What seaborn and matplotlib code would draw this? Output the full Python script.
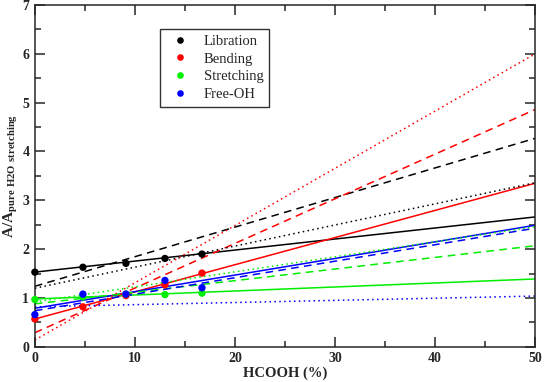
import matplotlib
matplotlib.use("Agg")
import matplotlib.pyplot as plt
import seaborn as sns
import pandas as pd
from matplotlib.ticker import MultipleLocator

# Measured points (HCOOH %)
conc = [0, 4.8, 9.1, 13.0, 16.7]
libration = [1.53, 1.63, 1.71, 1.81, 1.90]
bending = [0.57, 0.82, 1.05, 1.27, 1.51]
stretching = [0.97, 1.02, 1.08, 1.07, 1.10]
free_oh = [0.66, 1.08, 1.08, 1.36, 1.21]

series_names = ["Libration", "Bending", "Stretching", "Free-OH"]
colors = ["black", "red", "#00ee00", "blue"]

# Fit lines: value at 0 % and 50 % for solid / dashed / dotted
line_x = [0, 50]
solid_ends = [[1.53, 2.66], [0.57, 3.35], [0.98, 1.39], [0.79, 2.49]]
dashed_ends = [[1.24, 4.27], [0.29, 4.86], [0.88, 2.07], [0.74, 2.43]]
dotted_ends = [[1.20, 3.36], [0.14, 6.00], [0.92, 2.46], [0.82, 1.04]]

sns.set_style("ticks")
plt.rcParams["font.family"] = ["Liberation Serif", "DejaVu Serif"]
plt.rcParams["mathtext.fontset"] = "custom"
plt.rcParams["mathtext.rm"] = "Liberation Serif"
plt.rcParams["mathtext.bf"] = "Liberation Serif:bold"

fig, ax = plt.subplots(figsize=(5.45, 3.82), dpi=100)
fig.subplots_adjust(left=0.064, right=0.982, top=0.987, bottom=0.092)

styles = [("-", solid_ends), ((0, (5, 3.5)), dashed_ends), ((0, (1, 2.2)), dotted_ends)]
for ls, ends in styles:
    for i, name in enumerate(series_names):
        sns.lineplot(x=line_x, y=ends[i], color=colors[i], linestyle=ls,
                     linewidth=1.1, ax=ax, legend=False)

df = pd.DataFrame({
    "conc": conc * 4,
    "value": libration + bending + stretching + free_oh,
    "series": [n for n in series_names for _ in conc],
})
sns.scatterplot(data=df, x="conc", y="value", hue="series", hue_order=series_names,
                palette=colors, s=28, edgecolor="none", ax=ax, zorder=5, clip_on=False)

ax.set_xlim(0, 50)
ax.set_ylim(0, 7)
ax.xaxis.set_major_locator(MultipleLocator(10))
ax.xaxis.set_minor_locator(MultipleLocator(5))
ax.yaxis.set_major_locator(MultipleLocator(1))
ax.yaxis.set_minor_locator(MultipleLocator(0.5))
ax.tick_params(which="both", direction="in", top=True, right=True, width=1.1)
ax.tick_params(which="major", length=7, labelsize=10, pad=4)
ax.tick_params(which="minor", length=4)
for lab in ax.get_xticklabels() + ax.get_yticklabels():
    lab.set_fontweight("bold")
for sp in ax.spines.values():
    sp.set_linewidth(1.1)

ax.set_xlabel("HCOOH (%)", fontsize=10.5, fontweight="bold", labelpad=1)
ax.set_ylabel(r"$\mathbf{A/A}_{\mathbf{pure\ H2O\ stretching}}$", fontsize=11, labelpad=2)

leg = ax.legend(loc="upper left", bbox_to_anchor=(0.25, 0.93), borderaxespad=0,
                frameon=True, fancybox=False, fontsize=10.5, handletextpad=0.6,
                labelspacing=0.3, markerscale=0.9)
leg.get_frame().set_edgecolor("black")
leg.get_frame().set_linewidth(1.0)

fig.savefig("out.png", dpi=100)
